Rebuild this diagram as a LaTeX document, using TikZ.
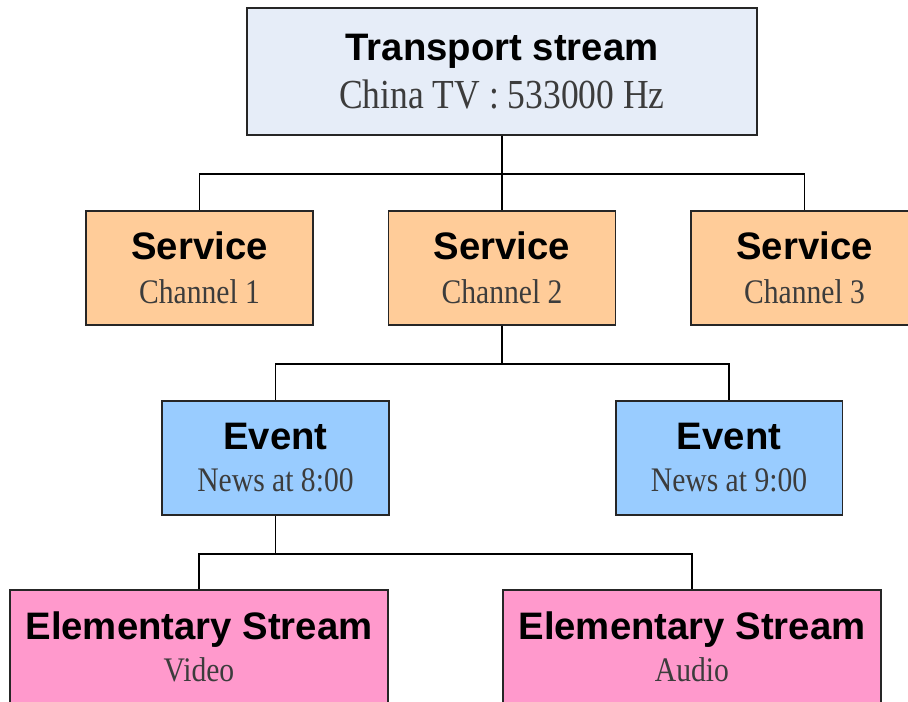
\documentclass[tikz,border=0pt]{standalone}
\usepackage{fontspec}
\setmainfont{Liberation Serif}
\newfontfamily\headfont{Liberation Sans}
\newfontfamily\subfont[FakeStretch=0.86]{Liberation Serif}
\definecolor{ts-blue}{HTML}{E6EDF8}
\definecolor{sv-orange}{HTML}{FFCC99}
\definecolor{ev-blue}{HTML}{99CCFF}
\definecolor{es-pink}{HTML}{FF99CC}
\definecolor{sub-gray}{HTML}{3C3C3C}
\newcommand{\hdline}[1]{{\headfont\bfseries\fontsize{21.8}{21.8}\selectfont #1}}
\newcommand{\subline}[2][19.6]{{\color{sub-gray}\subfont\fontsize{#1}{#1}\selectfont #2}}

\begin{document}
\begin{tikzpicture}[
    x=0.02cm, y=-0.02cm,
    box/.style={draw=black!85, line width=1.1pt, align=center, inner sep=0pt, minimum width=4.54cm, minimum height=2.28cm, font=\fontsize{19}{23.9}\selectfont},
    svbox/.style={box, fill=sv-orange, font=\fontsize{19}{25}\selectfont},
    evbox/.style={box, fill=ev-blue},
    esbox/.style={box, fill=es-pink, minimum width=7.56cm},
    link/.style={draw=black, line width=1pt}
]
\useasboundingbox (0,0) rectangle (908,702);
\clip (0,0) rectangle (908,702);

\node[box, fill=ts-blue, minimum width=10.22cm, minimum height=2.54cm, font=\fontsize{19}{27.3}\selectfont] (ts) at (502,71.5) {\hdline{Transport stream}\\\subline[23.5]{China TV : 533000 Hz}};

\node[svbox] (sv1) at (199.5,268) {\hdline{Service}\\\subline{Channel 1}};
\node[svbox] (sv2) at (502,268) {\hdline{Service}\\\subline{Channel 2}};
\node[svbox] (sv3) at (804.5,268) {\hdline{Service}\\\subline{Channel 3}};

\node[evbox] (ev1) at (275.5,458) {\hdline{Event}\\\subline{News at 8:00}};
\node[evbox] (ev2) at (729,458) {\hdline{Event}\\\subline{News at 9:00}};

\node[esbox] (es1) at (199,647) {\hdline{Elementary Stream}\\\subline{Video}};
\node[esbox] (es2) at (692,647) {\hdline{Elementary Stream}\\\subline{Audio}};

\draw[link] (ts.south) -- (sv2.north);
\draw[link] (ts.south) -- ++(0,38) -| (sv1.north);
\draw[link] (ts.south) -- ++(0,38) -| (sv3.north);
\draw[link] (sv2.south) -- ++(0,38) -| (ev1.north);
\draw[link] (sv2.south) -- ++(0,38) -| (ev2.north);
\draw[link] (ev1.south) -- ++(0,38) -| (es1.north);
\draw[link] (ev1.south) -- ++(0,38) -| (es2.north);
\end{tikzpicture}
\end{document}
